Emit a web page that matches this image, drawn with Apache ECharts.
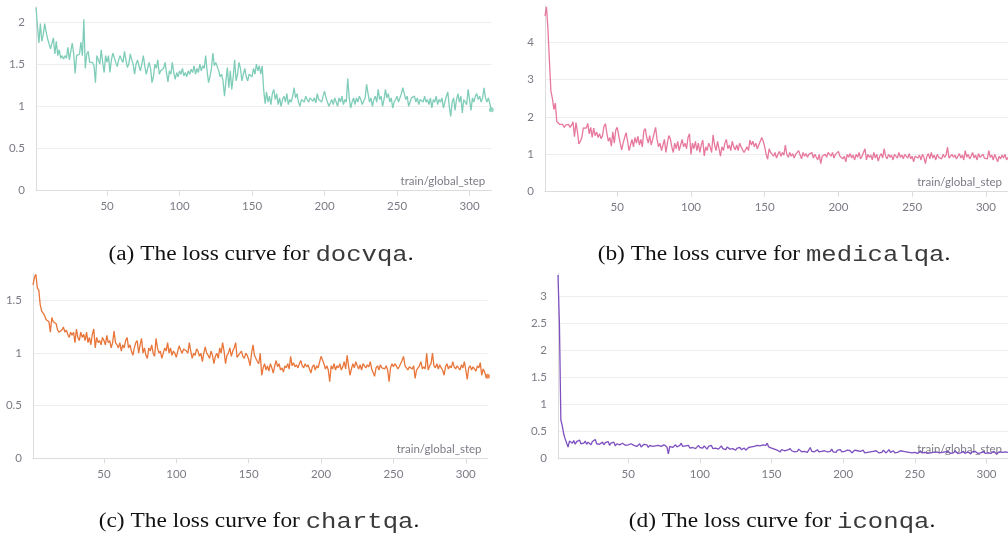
<!DOCTYPE html>
<html><head><meta charset="utf-8">
<script src="https://cdn.jsdelivr.net/npm/echarts@6/dist/echarts.min.js"></script>
<style>html,body{margin:0;padding:0;background:#fff}#c{width:1008px;height:533px}</style>
</head><body><div id="c"></div>
<script>
// ---- tick labels ----
const xTickValues = [50, 100, 150, 200, 250, 300];
const yTicksDocvqa = [0, 0.5, 1, 1.5, 2];
const yTicksMedicalqa = [0, 1, 2, 3, 4];
const yTicksChartqa = [0, 0.5, 1, 1.5];
const yTicksIconqa = [0, 0.5, 1, 1.5, 2, 2.5, 3];
const xAxisName = 'train/global_step';

// ---- captions ----
const captionLetters = ['(a)', '(b)', '(c)', '(d)'];
const datasetNames = ['docvqa', 'medicalqa', 'chartqa', 'iconqa'];

// ---- series values (loss per training step 1..315) ----
const docvqaLoss = [
2.17,1.95,1.75,1.98,1.77,1.85,1.98,1.88,1.8,1.74,
1.68,1.7,1.81,1.62,1.77,1.6,1.67,1.57,1.6,1.56,
1.6,1.57,1.7,1.55,1.57,1.75,1.62,1.39,1.6,1.58,
1.62,1.76,1.6,2.03,1.45,1.62,1.65,1.52,1.5,1.52,
1.48,1.28,1.6,1.55,1.5,1.67,1.52,1.4,1.6,1.52,
1.6,1.4,1.55,1.63,1.64,1.52,1.47,1.55,1.6,1.55,
1.52,1.65,1.55,1.46,1.5,1.62,1.55,1.5,1.38,1.5,
1.55,1.48,1.42,1.5,1.6,1.48,1.38,1.45,1.52,1.45,
1.28,1.35,1.5,1.45,1.55,1.38,1.42,1.4,1.45,1.52,
1.4,1.29,1.42,1.38,1.52,1.4,1.32,1.4,1.35,1.42,
1.38,1.45,1.36,1.4,1.35,1.42,1.38,1.44,1.4,1.48,
1.38,1.45,1.4,1.5,1.42,1.48,1.45,1.6,1.42,1.28,
1.35,1.45,1.63,1.48,1.52,1.52,1.42,1.35,1.38,1.3,
1.12,1.3,1.46,1.22,1.42,1.2,1.35,1.55,1.3,1.38,
1.52,1.45,1.3,1.38,1.45,1.35,1.3,1.38,1.4,1.35,
1.45,1.38,1.5,1.42,1.48,1.38,1.48,1.2,1.03,1.17,
1.05,1.12,1.02,1.15,1.2,1.08,1.15,1.02,1.1,1.0,
1.08,1.12,1.05,1.15,1.02,1.08,1.05,1.12,1.22,1.1,
1.15,1.05,1.0,1.08,1.1,1.05,1.12,1.08,1.05,1.1,
1.12,1.06,1.1,1.04,1.15,1.08,1.1,1.05,1.12,1.18,
1.1,1.05,1.0,0.98,1.08,1.02,1.1,1.05,1.0,1.1,
1.05,1.12,1.02,1.08,1.05,1.33,1.1,0.98,1.05,1.1,
1.02,1.1,1.05,1.12,1.08,1.02,1.0,1.1,1.26,1.15,
1.05,1.1,1.0,1.08,1.12,1.05,1.2,1.08,1.12,1.0,
1.08,1.2,1.1,1.15,1.05,1.1,0.98,1.05,1.08,1.12,
1.05,1.1,1.15,1.22,1.15,1.08,1.12,1.0,1.05,1.1,
1.08,1.12,1.05,1.1,1.02,1.08,1.1,1.05,1.12,1.05,
1.08,1.02,1.1,0.98,1.08,1.05,1.12,1.02,1.08,1.05,
1.1,0.98,1.05,1.12,1.17,1.0,0.88,1.05,1.1,0.95,
1.08,1.15,1.05,1.12,0.92,1.08,1.1,1.02,1.2,1.08,
0.95,1.1,1.05,1.12,1.15,1.08,1.12,1.05,1.1,1.22,
1.1,1.05,1.1,1.08,0.96
];
const medicalqaLoss = [
4.7,4.95,4.35,3.5,2.7,2.5,2.2,2.37,1.88,1.85,
1.8,1.76,1.8,1.72,1.78,1.74,1.8,1.72,1.78,1.87,
1.47,1.85,1.6,1.28,1.35,1.45,1.71,1.68,1.7,1.83,
1.55,1.72,1.45,1.7,1.5,1.6,1.45,1.55,1.42,1.5,
1.75,1.82,1.55,1.35,1.45,1.22,1.6,1.3,1.65,1.72,
1.5,1.3,1.12,1.3,1.45,1.58,1.35,1.1,1.25,1.4,
1.2,1.45,1.3,1.48,1.25,1.4,1.2,1.62,1.69,1.45,
1.3,1.5,1.25,1.4,1.35,1.72,1.4,1.2,1.3,1.1,
1.25,1.4,1.05,1.3,1.5,1.42,1.2,1.05,1.3,1.15,
1.35,1.1,1.25,1.4,1.2,1.3,1.15,1.45,1.55,1.0,
1.3,1.15,1.35,1.1,1.3,1.05,1.25,1.38,0.96,1.2,
1.1,1.3,1.2,1.05,1.52,1.25,1.1,1.35,1.15,0.95,
1.2,1.1,1.3,1.4,1.15,1.25,1.1,1.35,1.2,1.12,
1.25,1.1,1.3,1.2,1.15,1.05,1.0,1.2,1.1,1.38,
1.25,1.35,1.2,1.3,1.15,1.25,1.3,1.45,1.35,1.2,
1.0,0.87,1.15,1.05,1.1,0.95,1.05,0.9,1.0,1.08,
0.95,1.05,0.98,1.25,1.0,0.92,1.05,0.95,1.02,0.9,
1.0,0.95,1.1,0.98,0.88,1.05,0.95,1.02,0.92,1.0,
0.95,1.05,0.9,1.0,0.95,0.85,1.0,0.75,0.95,0.9,
1.0,0.92,1.05,1.1,0.95,1.05,0.9,1.0,0.95,1.08,
0.95,1.0,0.88,0.95,0.8,1.0,0.92,1.02,0.9,0.98,
0.85,1.0,0.92,1.05,0.88,0.95,1.0,1.15,0.85,1.0,
0.92,0.98,0.85,1.05,0.9,1.0,0.82,0.95,1.02,0.9,
1.15,0.95,0.88,1.0,0.92,0.98,0.85,1.0,0.95,0.9,
1.05,0.92,0.98,0.88,1.0,0.95,0.9,1.02,0.88,0.95,
0.8,0.95,1.0,0.9,0.98,0.85,1.0,0.92,0.75,0.95,
1.02,0.88,1.05,0.9,0.98,0.85,1.0,0.92,0.95,0.88,
1.0,0.92,0.98,1.19,0.9,0.85,1.0,0.92,0.98,0.88,
0.95,1.02,0.9,0.98,0.85,1.1,0.92,1.0,0.88,0.95,
1.05,0.9,0.98,0.85,1.02,0.92,0.88,1.0,0.9,0.95,
0.88,1.1,0.92,0.98,0.85,1.0,0.9,0.8,0.95,0.88,
0.98,0.9,1.0,0.85,0.92
];
const chartqaLoss = [
1.65,1.72,1.75,1.62,1.6,1.46,1.4,1.38,1.36,1.32,
1.32,1.3,1.2,1.34,1.3,1.3,1.28,1.22,1.2,1.19,
1.22,1.25,1.2,1.22,1.18,1.15,1.2,1.17,1.2,1.1,
1.23,1.15,1.12,1.2,1.15,1.18,1.12,1.2,1.1,1.15,
1.08,1.18,1.23,1.05,1.15,1.1,1.12,1.08,1.15,1.12,
1.08,1.17,1.1,1.12,1.05,1.1,1.21,1.1,1.08,1.05,
1.1,1.02,1.08,1.05,1.12,1.15,1.05,1.08,1.02,0.98,
1.05,1.1,1.12,1.0,1.08,1.14,1.0,1.05,0.98,0.95,
1.05,1.02,1.08,1.0,0.97,1.14,1.05,1.0,1.02,0.95,
1.0,1.05,1.02,1.1,1.0,1.05,0.98,1.02,1.0,0.96,
1.02,1.07,1.03,1.0,1.04,1.05,1.02,1.0,1.1,1.02,
0.95,1.0,0.98,1.04,1.02,0.97,1.0,0.92,1.0,1.06,
1.0,0.98,0.95,1.02,0.98,0.9,0.97,1.0,0.95,1.05,
1.0,1.1,1.02,0.9,0.98,1.0,1.05,0.97,1.02,1.05,
1.1,0.96,0.95,1.0,1.02,0.97,0.95,1.0,0.98,0.94,
0.88,1.0,1.08,0.98,0.95,0.92,0.9,1.0,0.79,0.86,
0.9,0.84,0.88,0.83,0.9,0.86,0.81,0.88,0.93,0.87,
0.9,0.84,0.86,0.82,0.88,0.86,0.9,0.85,0.97,0.88,
0.91,0.87,0.89,0.86,0.9,0.93,0.88,0.86,0.9,0.87,
0.89,0.85,0.81,0.87,0.89,0.84,0.88,0.86,0.85,0.97,
0.98,0.9,0.85,0.88,0.84,0.73,0.88,0.85,0.9,0.84,
0.88,0.86,0.9,0.84,0.87,0.92,0.85,0.98,0.88,0.79,
0.85,0.9,0.86,0.92,0.88,0.85,0.89,0.84,0.9,0.88,
0.86,0.89,0.87,0.92,0.85,0.84,0.78,0.86,0.88,0.84,
0.89,0.86,0.87,0.85,0.88,0.84,0.73,0.86,0.9,0.87,
0.9,0.88,0.85,0.87,0.86,0.93,0.97,0.88,0.86,0.84,
0.87,0.86,0.85,0.88,0.76,0.84,0.86,0.88,0.92,0.85,
0.87,0.85,1.0,0.84,0.88,0.9,1.0,0.88,0.86,0.9,
0.85,0.89,0.86,0.84,0.79,0.87,0.9,0.85,0.88,0.86,
0.92,0.87,0.85,0.88,0.86,0.84,0.89,0.86,0.92,0.84,
0.75,0.86,0.88,0.84,0.87,0.85,0.83,0.88,0.86,0.91,
0.79,0.85,0.82,0.78,0.78
];
const iconqaLoss = [
3.4,2.48,0.71,0.6,0.45,0.36,0.33,0.21,0.32,0.3,
0.28,0.33,0.26,0.31,0.29,0.34,0.27,0.3,0.28,0.32,
0.26,0.3,0.28,0.25,0.31,0.29,0.35,0.27,0.3,0.26,
0.28,0.3,0.25,0.29,0.27,0.31,0.24,0.28,0.26,0.3,
0.23,0.27,0.29,0.25,0.22,0.28,0.26,0.24,0.27,0.25,
0.23,0.27,0.29,0.24,0.26,0.22,0.25,0.27,0.21,0.24,
0.26,0.23,0.25,0.2,0.24,0.27,0.22,0.25,0.23,0.21,
0.24,0.26,0.22,0.2,0.25,0.23,0.21,0.08,0.22,0.24,
0.2,0.23,0.25,0.21,0.19,0.24,0.28,0.22,0.2,0.23,
0.21,0.24,0.19,0.22,0.2,0.23,0.18,0.21,0.24,0.2,
0.22,0.19,0.23,0.2,0.17,0.22,0.2,0.24,0.18,0.21,
0.19,0.22,0.17,0.2,0.23,0.18,0.2,0.16,0.21,0.19,
0.17,0.2,0.18,0.21,0.15,0.19,0.17,0.2,0.16,0.18,
0.19,0.15,0.18,0.2,0.17,0.21,0.18,0.22,0.2,0.24,
0.21,0.23,0.2,0.25,0.22,0.24,0.28,0.21,0.23,0.19,
0.2,0.17,0.19,0.15,0.18,0.12,0.16,0.19,0.14,0.17,
0.15,0.13,0.18,0.14,0.16,0.12,0.15,0.13,0.17,0.14,
0.12,0.15,0.13,0.16,0.11,0.14,0.2,0.13,0.15,0.12,
0.14,0.16,0.12,0.15,0.13,0.11,0.14,0.16,0.12,0.15,
0.13,0.17,0.12,0.14,0.11,0.15,0.13,0.16,0.12,0.14,
0.13,0.11,0.15,0.12,0.14,0.1,0.13,0.15,0.12,0.14,
0.11,0.13,0.12,0.15,0.1,0.13,0.11,0.14,0.12,0.1,
0.13,0.11,0.14,0.12,0.1,0.13,0.11,0.15,0.12,0.1,
0.13,0.16,0.11,0.12,0.14,0.1,0.13,0.11,0.12,0.14,
0.11,0.13,0.1,0.12,0.14,0.11,0.13,0.1,0.12,0.11,
0.13,0.09,0.12,0.14,0.1,0.12,0.11,0.13,0.09,0.12,
0.1,0.13,0.11,0.09,0.12,0.14,0.1,0.12,0.11,0.08,
0.12,0.1,0.13,0.11,0.09,0.12,0.1,0.14,0.11,0.09,
0.12,0.1,0.11,0.13,0.09,0.11,0.12,0.1,0.08,0.12,
0.1,0.13,0.11,0.09,0.12,0.1,0.11,0.13,0.09,0.11,
0.1,0.12,0.09,0.11,0.13,0.1,0.08,0.11,0.12,0.1,
0.11,0.09,0.12,0.1,0.11
];

// ---- layout / style (not data) ----
const panels = [
  { loss: docvqaLoss,    yTicks: yTicksDocvqa,    yMax: 2.18, color: '#7fcdb8', grid: { left: 36,  right: 516.7, top: 6.7,   bottom: 342.3 }, endDot: true,  cap: { x: 261, y: 254 } },
  { loss: medicalqaLoss, yTicks: yTicksMedicalqa, yMax: 4.97, color: '#e7789d', grid: { left: 545, right: -1.5,  top: 6,     bottom: 341.3 }, endDot: false, cap: { x: 774, y: 254 } },
  { loss: chartqaLoss,   yTicks: yTicksChartqa,   yMax: 1.76, color: '#e8763a', grid: { left: 33,  right: 520.5, top: 273.3, bottom: 74.7 },  endDot: true,  cap: { x: 259, y: 521 } },
  { loss: iconqaLoss,    yTicks: yTicksIconqa,    yMax: 3.43, color: '#7e50bf', grid: { left: 558, right: -6,    top: 273.3, bottom: 74.7 },  endDot: false, cap: { x: 782, y: 521 } }
];

const labelColor = '#7b7b86';
const uiFont = 'Lato';

const option = { animation: false, grid: [], xAxis: [], yAxis: [], series: [], graphic: [] };

panels.forEach((p, i) => {
  const steps = p.loss.map((_, j) => j + 1);
  option.grid.push(Object.assign({ containLabel: false }, p.grid));
  option.xAxis.push({
    type: 'value', gridIndex: i, min: 1, max: steps.length,
    name: xAxisName, nameLocation: 'end', nameGap: -6,
    nameTextStyle: { color: labelColor, fontFamily: uiFont, fontSize: 11.5, align: 'right', verticalAlign: 'bottom', padding: [0, 0, 3, 0] },
    axisLine: { show: true, lineStyle: { color: '#dcdcdc', width: 1 } },
    axisTick: { show: true, customValues: xTickValues, length: 5, lineStyle: { color: '#dcdcdc' } },
    axisLabel: { customValues: xTickValues, color: labelColor, fontFamily: uiFont, fontSize: 11.5, margin: 10 },
    splitLine: { show: false }
  });
  option.yAxis.push({
    type: 'value', gridIndex: i, min: 0, max: p.yMax,
    axisLine: { show: true, lineStyle: { color: '#dcdcdc', width: 1 } },
    axisTick: { show: false, customValues: p.yTicks },
    axisLabel: { customValues: p.yTicks, color: labelColor, fontFamily: uiFont, fontSize: 11.5, margin: 11 },
    splitLine: { show: true, lineStyle: { color: '#eeeeee', width: 1 } }
  });
  option.series.push({
    type: 'line', xAxisIndex: i, yAxisIndex: i,
    data: steps.map((s, j) => [s, p.loss[j]]),
    showSymbol: false, symbol: 'none',
    lineStyle: { color: p.color, width: 1.3 },
    itemStyle: { color: p.color }
  });
  if (p.endDot) {
    const last = p.loss.length - 1;
    option.series.push({
      type: 'scatter', xAxisIndex: i, yAxisIndex: i,
      data: [[steps[last], p.loss[last]]], symbolSize: 5,
      itemStyle: { color: p.color }
    });
  }
  option.graphic.push({
    type: 'text', x: p.cap.x, y: p.cap.y + 1, scaleX: 1.14, scaleY: 1,
    style: {
      text: '{s|' + captionLetters[i] + ' The loss curve for }{m|' + datasetNames[i] + '}{s|.}',
      align: 'center', verticalAlign: 'middle',
      rich: {
        s: { fontFamily: 'Liberation Serif', fontSize: 20.5, fill: '#111' },
        m: { fontFamily: 'Liberation Mono', fontSize: 22.5, fill: '#3a3a3a' }
      }
    }
  });
});

const chart = echarts.init(document.getElementById('c'), null, { renderer: 'canvas' });
chart.setOption(option);
</script>
</body></html>
